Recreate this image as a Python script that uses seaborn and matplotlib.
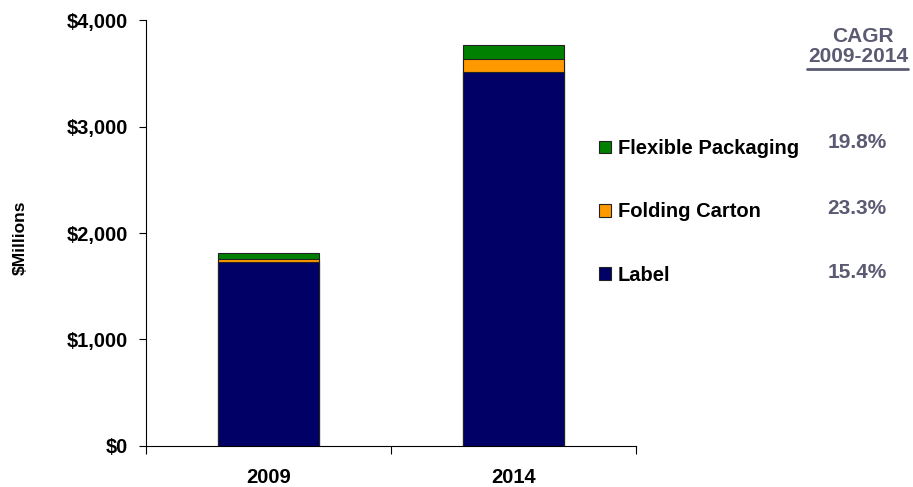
import matplotlib
matplotlib.use('Agg')
import matplotlib.pyplot as plt
import seaborn as sns
import pandas as pd
from matplotlib.patches import Patch

sns.set_style('ticks')
plt.rcParams['font.family'] = ['Liberation Sans', 'DejaVu Sans']
plt.rcParams['font.weight'] = 'bold'
plt.rcParams['text.color'] = 'black'
plt.rcParams['axes.labelcolor'] = 'black'
plt.rcParams['xtick.color'] = 'black'
plt.rcParams['ytick.color'] = 'black'

# values in $ millions
years = ['2009', '2014']
label = [1728, 3509]
folding_carton = [32, 127]
flexible_packaging = [52, 129]

segments = ['Flexible Packaging', 'Folding Carton', 'Label']
cagr = ['19.8%', '23.3%', '15.4%']
colors = {'Label': '#000066', 'Folding Carton': '#FF9900', 'Flexible Packaging': '#008000'}

df = pd.DataFrame({
    'year': years,
    'Label': label,
    'Folding Carton': folding_carton,
    'Flexible Packaging': flexible_packaging,
})
# cumulative heights so the stack can be drawn as overlapping bars
df['top_label'] = df['Label']
df['top_folding'] = df['top_label'] + df['Folding Carton']
df['top_flexible'] = df['top_folding'] + df['Flexible Packaging']

fig = plt.figure(figsize=(9.13, 4.87), dpi=100)
ax = fig.add_axes([0.16, 0.0842, 0.5366, 0.8747])

for col, seg in [('top_flexible', 'Flexible Packaging'),
                 ('top_folding', 'Folding Carton'),
                 ('top_label', 'Label')]:
    sns.barplot(data=df, x='year', y=col, color=colors[seg], width=0.41,
                edgecolor='#222222', linewidth=0.8, saturation=1, ax=ax)

ax.set_xlim(-0.5, 1.5)
ax.set_ylim(0, 4000)
ax.set_yticks([0, 1000, 2000, 3000, 4000])
ax.set_yticklabels(['$0', '$1,000', '$2,000', '$3,000', '$4,000'])
ax.tick_params(axis='y', length=5, width=0.8, pad=8, labelsize=14.5)
ax.set_xticks([0, 1])
ax.set_xticklabels(years)
ax.set_xticks([-0.5, 0.5, 1.5], minor=True)
ax.tick_params(axis='x', which='major', length=0, pad=16, labelsize=14.5)
ax.tick_params(axis='x', which='minor', length=6, width=0.8, direction='out')
for lab in ax.get_xticklabels() + ax.get_yticklabels():
    lab.set_fontweight('bold')

ax.set_xlabel('')
ax.set_ylabel('')
fig.text(20 / 913, 1 - 238 / 487, '$Millions', rotation=90, ha='center', va='center',
         fontsize=12.5, fontweight='bold')
sns.despine(ax=ax)
for sp in ['left', 'bottom']:
    ax.spines[sp].set_linewidth(0.8)
    ax.spines[sp].set_color('black')

handles = [Patch(facecolor=colors[s], edgecolor='#222222', linewidth=0.8) for s in segments]
leg = fig.legend(handles, segments, loc='upper left', bbox_to_anchor=(0.645, 0.735),
                 frameon=False, fontsize=14.5, handlelength=0.6, handleheight=0.6,
                 handletextpad=0.35, labelspacing=2.2, borderpad=0)
for t in leg.get_texts():
    t.set_fontweight('bold')
    t.set_color('black')

cagr_color = '#5A5A72'
fig.text(863 / 913, 1 - 36 / 487, 'CAGR', ha='center', va='center',
         fontsize=15, fontweight='bold', color=cagr_color)
fig.text(858 / 913, 1 - 56 / 487, '2009-2014', ha='center', va='center',
         fontsize=15, fontweight='bold', color=cagr_color)
fig.add_artist(plt.Line2D([807 / 913, 908 / 913], [1 - 69 / 487, 1 - 69 / 487],
                          color=cagr_color, linewidth=2))
for val, ypix in zip(cagr, [143, 209, 273]):
    fig.text(857 / 913, 1 - ypix / 487, val, ha='center', va='center',
             fontsize=15, fontweight='bold', color=cagr_color)

fig.savefig('out.png', dpi=100)
